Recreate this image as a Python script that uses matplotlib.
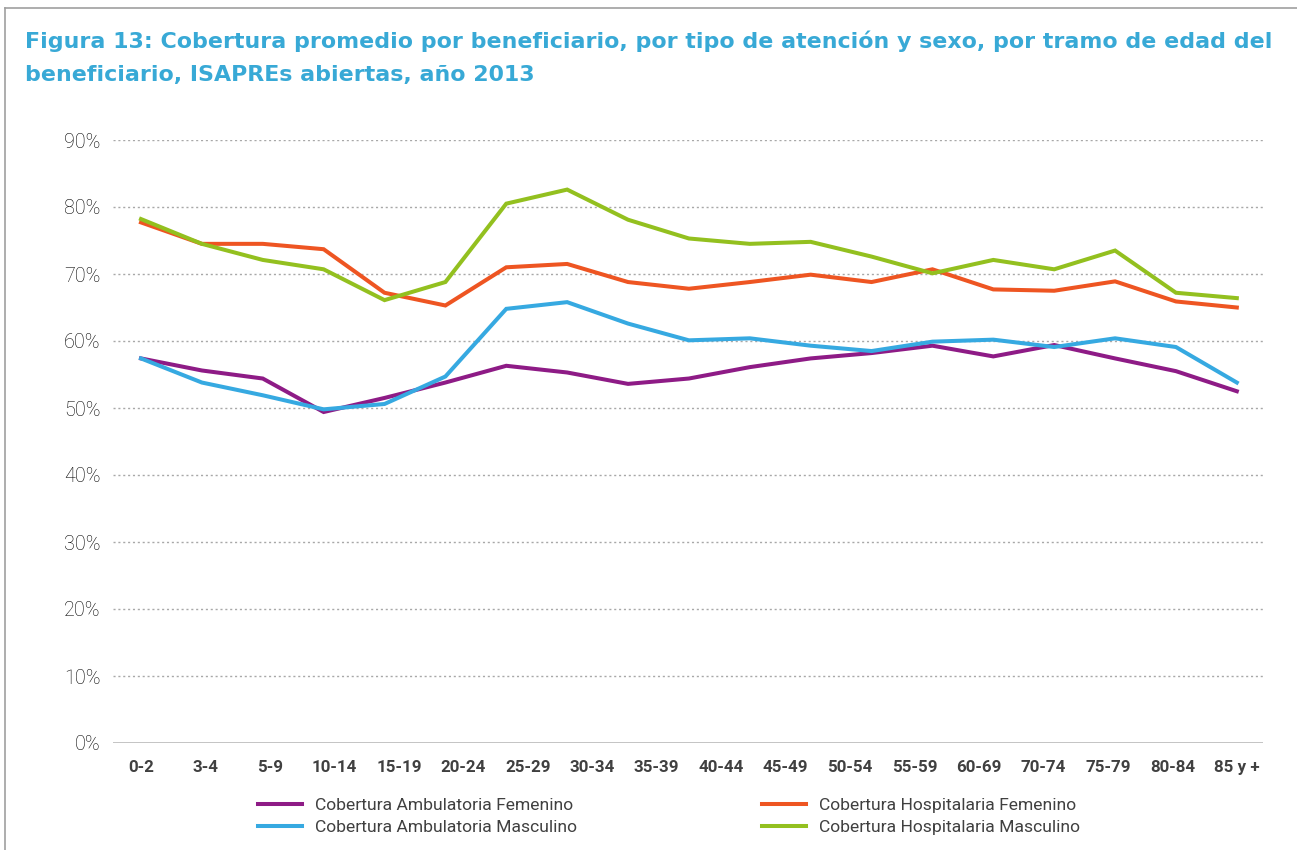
#!/usr/bin/env python3
# -*- coding: utf-8 -*-
"""
Figura 13: cobertura promedio por beneficiario, ISAPREs abiertas, 2013.
"""

import numpy as np
import matplotlib
matplotlib.use('Agg')
import matplotlib.pyplot as plt
from matplotlib.lines import Line2D

# Datos (19 puntos por serie, 18 etiquetas en el eje)
tramos = ['0-2', '3-4', '5-9', '10-14', '15-19', '20-24', '25-29', '30-34', '35-39',
          '40-44', '45-49', '50-54', '55-59', '60-69', '70-74', '75-79', '80-84', '85 y +']

amb_fem = [57.4, 55.6, 54.4, 49.4, 51.5, 53.8, 56.3, 55.3, 53.6, 54.4,
           56.1, 57.4, 58.2, 59.3, 57.7, 59.4, 57.4, 55.5, 52.5]
amb_masc = [57.4, 53.8, 51.9, 49.8, 50.6, 54.7, 64.8, 65.8, 62.6, 60.1,
            60.4, 59.3, 58.5, 59.9, 60.2, 59.1, 60.4, 59.1, 53.8]
hosp_fem = [77.7, 74.5, 74.5, 73.7, 67.2, 65.3, 71.0, 71.5, 68.8, 67.8,
            68.8, 69.9, 68.8, 70.7, 67.7, 67.5, 68.9, 65.9, 65.0]
hosp_masc = [78.2, 74.5, 72.1, 70.7, 66.1, 68.8, 80.5, 82.6, 78.1, 75.3,
             74.5, 74.8, 72.6, 70.1, 72.1, 70.7, 73.5, 67.2, 66.4]

series = [
    ('Cobertura Ambulatoria Femenino', amb_fem, '#8E1B86'),
    ('Cobertura Ambulatoria Masculino', amb_masc, '#36A9E1'),
    ('Cobertura Hospitalaria Femenino', hosp_fem, '#EE5522'),
    ('Cobertura Hospitalaria Masculino', hosp_masc, '#93C01F'),
]

TITULO_1 = 'Figura 13: Cobertura promedio por beneficiario, por tipo de atención y sexo, por tramo de edad del'
TITULO_2 = 'beneficiario, ISAPREs abiertas, año 2013'
AZUL_TITULO = '#38A9D6'
GRIS_TEXTO = '#404040'

W, H = 1297, 850
fig = plt.figure(figsize=(W / 100, H / 100), dpi=100)

# marco gris exterior (izquierda y arriba)
fig.add_artist(Line2D([5 / W, 5 / W], [0, 1 - 8 / H], color='#A0A0A0', lw=1.2,
                      transform=fig.transFigure))
fig.add_artist(Line2D([5 / W, 1], [1 - 8 / H, 1 - 8 / H], color='#A0A0A0', lw=1.2,
                      transform=fig.transFigure))

fig.text(25 / W, 1 - 48 / H, TITULO_1, color=AZUL_TITULO, fontsize=15.95,
         fontweight='bold', family='DejaVu Sans', va='baseline', ha='left')
fig.text(25 / W, 1 - 81 / H, TITULO_2, color=AZUL_TITULO, fontsize=15.95,
         fontweight='bold', family='DejaVu Sans', va='baseline', ha='left')

ax = fig.add_axes([113 / W, 1 - 743 / H, (1263 - 113) / W, (743 - 140) / H])

x = np.arange(len(amb_fem))
handles = []
for nombre, vals, color in series:
    h, = ax.plot(x, np.array(vals) / 100, color=color, lw=2.9, label=nombre,
                 solid_joinstyle='miter', zorder=3)
    handles.append(h)

ax.set_ylim(0, 0.9)
ax.set_xlim(-0.46, len(x) - 1 + 0.43)
yt = np.arange(0, 0.91, 0.1)
ax.set_yticks(yt)
ax.set_yticklabels([f'{int(round(v * 100))}%' for v in yt], family='Roboto',
                   fontweight='light', fontsize=14.2, color='#000000')
ax.set_xticks(np.linspace(0, len(x) - 1, len(tramos)))
ax.set_xticklabels(tramos, family='Roboto', fontweight='bold', fontsize=12.2,
                   color=GRIS_TEXTO)
ax.tick_params(axis='both', length=0)
ax.tick_params(axis='y', pad=9)
ax.tick_params(axis='x', pad=12)

for v in yt[1:]:
    ax.axhline(v, color='#A8A8A8', lw=1.0, ls=(0, (1.5, 2)), zorder=1)
ax.axhline(0, color='#BFBFBF', lw=2.0, zorder=2)
for s in ax.spines.values():
    s.set_visible(False)

leg_kw = dict(frameon=False, handlelength=2.5, handletextpad=0.75,
              labelspacing=0.38, borderpad=0, borderaxespad=0,
              labelcolor=GRIS_TEXTO, prop={'family': 'Roboto', 'size': 12.6})
fig.legend(handles[:2], [s[0] for s in series[:2]], loc='upper left',
           bbox_to_anchor=(258 / W, 1 - 798 / H), **leg_kw)
fig.legend(handles[2:], [s[0] for s in series[2:]], loc='upper left',
           bbox_to_anchor=(762 / W, 1 - 798 / H), **leg_kw)

fig.savefig('out.png', dpi=100)
